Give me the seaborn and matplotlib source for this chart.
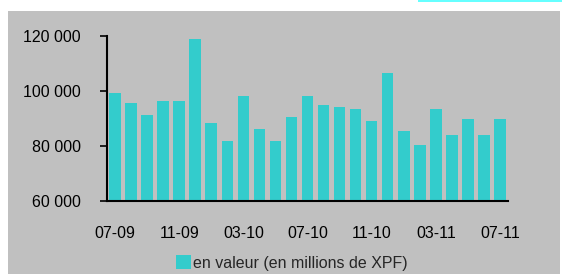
import matplotlib
matplotlib.use("Agg")
import matplotlib.pyplot as plt
import seaborn as sns
import pandas as pd
from matplotlib.patches import Rectangle
from matplotlib.ticker import FuncFormatter

months = ["07-09", "08-09", "09-09", "10-09", "11-09", "12-09", "01-10", "02-10",
          "03-10", "04-10", "05-10", "06-10", "07-10", "08-10", "09-10", "10-10",
          "11-10", "12-10", "01-11", "02-11", "03-11", "04-11", "05-11", "06-11", "07-11"]
values = [99200, 95500, 91200, 96200, 96200, 118800, 88200, 81700,
          98300, 86100, 81700, 90400, 98300, 94800, 94100, 93300,
          89000, 106400, 85300, 80300, 93300, 83900, 89700, 83900, 89700]
series_label = "en valeur (en millions de XPF)"
yticks = [60000, 80000, 100000, 120000]

sns.set_style("white")
plt.rcParams["font.family"] = ["Liberation Sans", "DejaVu Sans"]

df = pd.DataFrame({"mois": months, "valeur": values})

fig = plt.figure(figsize=(5.62, 2.75), dpi=100)
fig.patch.set_facecolor("white")
fig.patches.append(Rectangle((8 / 562, 1 - 274 / 275), (560 - 8) / 562, (274 - 11) / 275,
                             transform=fig.transFigure, facecolor="#C0C0C0",
                             edgecolor="none", zorder=-10))
fig.patches.append(Rectangle((418 / 562, 1 - 2 / 275), (562 - 418) / 562, 2 / 275,
                             transform=fig.transFigure, facecolor="#66FFFF",
                             edgecolor="none", zorder=-10))

ax = fig.add_axes([107 / 562, 1 - 201 / 275, (508 - 107) / 562, (201 - 36) / 275])
ax.set_facecolor("none")
ax.set_zorder(5)

sns.barplot(data=df, x="mois", y="valeur", color="#33CCCC", saturation=1,
            width=0.72, label=series_label, linewidth=0, edgecolor="none", ax=ax)

ax.set_ylim(60000, 120000)
ax.set_xlim(-0.5, len(months) - 0.5)
ax.set_yticks(yticks)
ax.yaxis.set_major_formatter(FuncFormatter(lambda v, p: f"{int(v):,}".replace(",", " ")))

ax.set_xticks(range(0, len(months), 4))
ax.set_xticklabels(months[::4])
ax.set_xticks([i - 0.5 for i in range(0, len(months), 4)], minor=True)
ax.tick_params(axis="x", which="major", length=0, pad=18, labelsize=11.5, colors="black")
ax.tick_params(axis="x", which="minor", length=6, width=1.2, direction="inout", color="black")
ax.tick_params(axis="y", length=5, width=1.2, direction="out", pad=14, labelsize=11.5,
               colors="black", left=True)

for s in ["top", "right"]:
    ax.spines[s].set_visible(False)
for s in ["left", "bottom"]:
    ax.spines[s].set_color("black")
    ax.spines[s].set_linewidth(1.5)

ax.set_xlabel("")
ax.set_ylabel("")

leg = ax.legend(loc="center", bbox_to_anchor=(292 / 562, 1 - 263 / 275),
                bbox_transform=fig.transFigure, frameon=False, fontsize=11.5,
                handlelength=0.9, handleheight=0.9, handletextpad=0.15, borderpad=0)

fig.savefig("out.png", dpi=100)
